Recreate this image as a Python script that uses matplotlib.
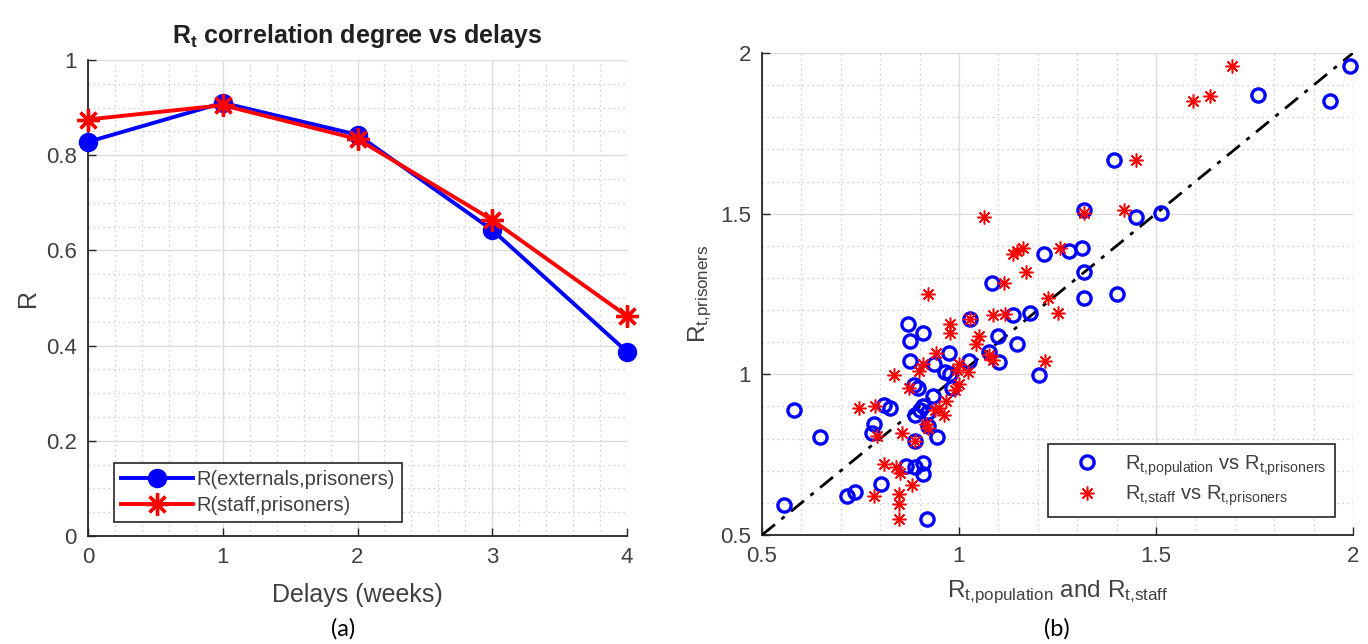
import matplotlib
matplotlib.use("Agg")
import matplotlib.pyplot as plt
from matplotlib.ticker import MultipleLocator, FixedLocator, FixedFormatter

plt.rcParams['font.family'] = ['Liberation Sans', 'DejaVu Sans']
plt.rcParams['mathtext.fontset'] = 'custom'
plt.rcParams['mathtext.rm'] = 'Liberation Sans'
plt.rcParams['mathtext.it'] = 'Liberation Sans'
plt.rcParams['mathtext.bf'] = 'Liberation Sans:bold'

# ---------------- data: panel (a) ----------------
delays = [0, 1, 2, 3, 4]
r_externals = [0.828, 0.910, 0.843, 0.643, 0.387]
r_staff = [0.875, 0.905, 0.834, 0.664, 0.462]
a_xticks = [0, 1, 2, 3, 4]
a_yticks = [0, 0.2, 0.4, 0.6, 0.8, 1.0]
a_yticklabels = ['0', '0.2', '0.4', '0.6', '0.8', '1']

# ---------------- data: panel (b) ----------------
pop_x = [1.992, 1.759, 1.942, 1.394, 1.316, 1.448, 1.512, 1.217, 1.279, 1.311,
         1.317, 1.084, 1.317, 1.400, 1.028, 1.138, 1.180, 0.870, 0.909, 0.875,
         1.100, 1.146, 0.975, 1.075, 0.875, 0.936, 1.026, 1.102, 0.965, 0.978,
         1.203, 0.885, 0.897, 0.981, 0.934, 0.582, 0.809, 0.825, 0.909, 0.901,
         0.888, 0.922, 0.784, 0.778, 0.648, 0.922, 0.944, 0.888, 0.865, 0.888,
         0.909, 0.909, 0.801, 0.737, 0.717, 0.557, 0.919]
pop_y = [1.961, 1.869, 1.852, 1.666, 1.512, 1.490, 1.501, 1.373, 1.383, 1.393,
         1.317, 1.284, 1.236, 1.251, 1.173, 1.184, 1.192, 1.158, 1.128, 1.104,
         1.119, 1.095, 1.065, 1.069, 1.041, 1.031, 1.041, 1.039, 1.008, 1.000,
         0.997, 0.967, 0.956, 0.956, 0.933, 0.889, 0.905, 0.894, 0.902, 0.889,
         0.872, 0.883, 0.844, 0.816, 0.805, 0.839, 0.805, 0.792, 0.716, 0.713,
         0.724, 0.690, 0.658, 0.635, 0.621, 0.594, 0.549]
staff_x = [1.694, 1.595, 1.636, 1.448, 1.064, 1.419, 1.316, 1.136, 1.148, 1.163,
           1.257, 1.171, 1.114, 0.921, 1.227, 1.087, 1.118, 1.251, 1.028, 0.978,
           0.976, 1.052, 1.044, 0.942, 1.077, 1.087, 0.909, 1.218, 0.899, 1.000,
           0.995, 1.022, 0.835, 1.000, 0.990, 0.872, 0.968, 0.949, 0.963, 0.747,
           0.788, 0.939, 0.916, 0.791, 0.855, 0.888, 0.809, 0.840, 0.850, 0.880,
           0.783, 0.848, 0.848, 0.848, 0.922]
staff_y = [1.961, 1.852, 1.866, 1.666, 1.490, 1.510, 1.501, 1.375, 1.384, 1.393,
           1.393, 1.317, 1.284, 1.251, 1.236, 1.184, 1.189, 1.192, 1.173, 1.156,
           1.128, 1.119, 1.095, 1.067, 1.061, 1.045, 1.033, 1.041, 1.011, 1.033,
           1.013, 1.006, 0.997, 0.969, 0.950, 0.956, 0.916, 0.894, 0.872, 0.894,
           0.900, 0.889, 0.844, 0.808, 0.816, 0.791, 0.722, 0.713, 0.694, 0.657,
           0.621, 0.629, 0.596, 0.551, 0.833]
diag = [0.5, 2.0]
b_ticks = [0.5, 1.0, 1.5, 2.0]
b_ticklabels = ['0.5', '1', '1.5', '2']

TXT = '#404040'
SPINE = '#262626'

fig = plt.figure(figsize=(13.68, 6.44), dpi=100)
ax1 = fig.add_axes([88/1368, 108/644, 539/1368, 476/644])
ax2 = fig.add_axes([762/1368, 109/644, 591/1368, 482/644])


def style(ax):
    for s in ['top', 'right']:
        ax.spines[s].set_visible(False)
    for s in ['left', 'bottom']:
        ax.spines[s].set_color(SPINE)
        ax.spines[s].set_linewidth(1.3)
    ax.tick_params(which='major', direction='in', length=6, width=1.0,
                   colors=SPINE, labelcolor=TXT, labelsize=16, pad=8)
    ax.tick_params(which='minor', length=0)
    ax.grid(which='major', color='#dcdcdc', linewidth=1.0, linestyle='-')
    ax.grid(which='minor', color='#c0c0c0', linewidth=0.9, linestyle=(0, (1, 3)))
    ax.set_axisbelow(True)


# ---------------- panel (a) ----------------
style(ax1)
ax1.plot(delays, r_externals, color='#0000ff', lw=2.8, marker='o', ms=13,
         label='R(externals,prisoners)', clip_on=False, zorder=3)
ax1.plot(delays, r_staff, color='#ff0000', lw=2.8, marker=(8, 2, 0), ms=16,
         mew=2.4, label='R(staff,prisoners)', clip_on=False, zorder=4)
ax1.set_xlim(0, 4)
ax1.set_ylim(0, 1)
ax1.xaxis.set_major_locator(FixedLocator(a_xticks))
ax1.xaxis.set_minor_locator(MultipleLocator(0.2))
ax1.yaxis.set_major_locator(FixedLocator(a_yticks))
ax1.yaxis.set_major_formatter(FixedFormatter(a_yticklabels))
ax1.yaxis.set_minor_locator(MultipleLocator(0.05))
ax1.set_xlabel('Delays (weeks)', fontsize=18, color=TXT, labelpad=11)
ax1.set_ylabel('R', fontsize=18, color=TXT, labelpad=4)
ax1.set_title(r'R$_\mathbf{t}$ correlation degree vs delays', fontsize=18,
              fontweight='bold', color='#202020', pad=12)
leg1 = ax1.legend(loc='lower left', bbox_to_anchor=(0.048, 0.03), fontsize=14.5,
                  handlelength=3.6, frameon=True, fancybox=False, borderpad=0.35,
                  labelspacing=0.35, handletextpad=0.15, borderaxespad=0)
leg1.get_frame().set_edgecolor('#262626')
leg1.get_frame().set_linewidth(1.2)
leg1.get_frame().set_alpha(1)
for t in leg1.get_texts():
    t.set_color(TXT)

# ---------------- panel (b) ----------------
style(ax2)
ax2.plot(diag, diag, color='black', lw=2.0, linestyle=(0, (6, 3, 1.5, 3)), zorder=3)
ax2.plot(pop_x, pop_y, linestyle='none', marker='o', ms=9.5, mfc='none',
         mec='#0000ff', mew=2.4, zorder=4, clip_on=False,
         label=r'R$_{\mathrm{t{,}population}}$ vs R$_{\mathrm{t{,}prisoners}}$')
ax2.plot(staff_x, staff_y, linestyle='none', marker=(8, 2, 0), ms=10,
         mec='#ff0000', mew=1.1, zorder=5, clip_on=False,
         label=r'R$_{\mathrm{t{,}staff}}$ vs R$_{\mathrm{t{,}prisoners}}$')
ax2.set_xlim(0.5, 2)
ax2.set_ylim(0.5, 2)
ax2.xaxis.set_major_locator(FixedLocator(b_ticks))
ax2.xaxis.set_major_formatter(FixedFormatter(b_ticklabels))
ax2.yaxis.set_major_locator(FixedLocator(b_ticks))
ax2.yaxis.set_major_formatter(FixedFormatter(b_ticklabels))
ax2.xaxis.set_minor_locator(MultipleLocator(0.1))
ax2.yaxis.set_minor_locator(MultipleLocator(0.1))
ax2.set_xlabel(r'R$_{\mathrm{t{,}population}}$ and R$_{\mathrm{t{,}staff}}$',
               fontsize=17.5, color=TXT, labelpad=8)
ax2.set_ylabel(r'R$_{\mathrm{t{,}prisoners}}$', fontsize=17.5, color=TXT, labelpad=4)
leg2 = ax2.legend(loc='lower left', bbox_to_anchor=(0.484, 0.037), fontsize=14.5,
                  frameon=True, fancybox=False, borderpad=0.45, labelspacing=0.3,
                  handletextpad=0.35, borderaxespad=0, handlelength=3.0)
leg2.get_frame().set_edgecolor('#262626')
leg2.get_frame().set_linewidth(1.2)
leg2.get_frame().set_alpha(1)
for t in leg2.get_texts():
    t.set_color(TXT)

fig.text(343/1368, 1 - 629/644, '(a)', ha='center', va='center', fontsize=17,
         family=['Lato', 'DejaVu Sans'], color='black')
fig.text(1057/1368, 1 - 629/644, '(b)', ha='center', va='center', fontsize=17,
         family=['Lato', 'DejaVu Sans'], color='black')

fig.savefig('out.png', dpi=100, facecolor='white')
